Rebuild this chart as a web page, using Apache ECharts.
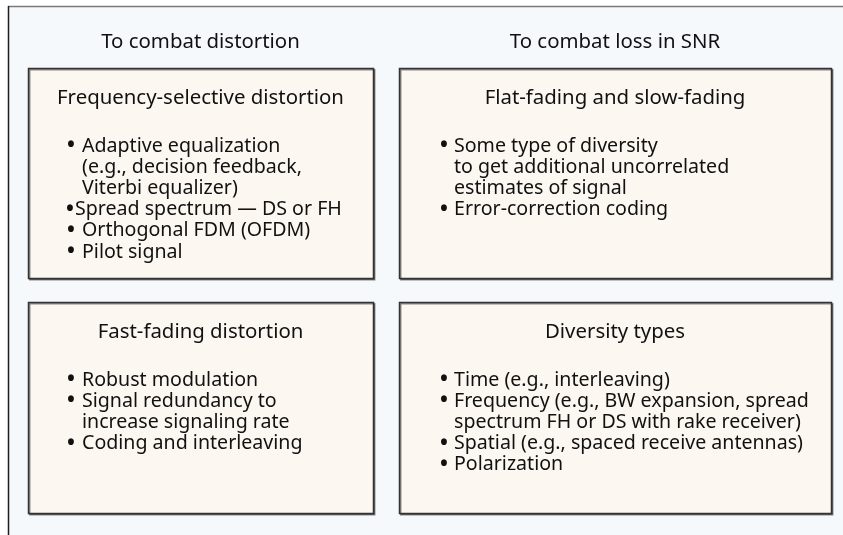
<!DOCTYPE html>
<html>
<head>
<meta charset="utf-8">
<script src="https://cdn.jsdelivr.net/npm/echarts@6/dist/echarts.min.js"></script>
<style>
html,body{margin:0;padding:0;background:#ffffff;}
#chart{width:843px;height:535px;}
</style>
</head>
<body>
<div id="chart"></div>
<script>
// ---- content ----
const columnTitles = ['To combat distortion', 'To combat loss in SNR'];
const boxTitles = [
  'Frequency-selective distortion',
  'Flat-fading and slow-fading',
  'Fast-fading distortion',
  'Diversity types'
];
const freqSelectiveItems = [
  ['Adaptive equalization', '(e.g., decision feedback,', 'Viterbi equalizer)'],
  ['Spread spectrum \u2014 DS or FH'],
  ['Orthogonal FDM (OFDM)'],
  ['Pilot signal']
];
const flatFadingItems = [
  ['Some type of diversity', 'to get additional uncorrelated', 'estimates of signal'],
  ['Error-correction coding']
];
const fastFadingItems = [
  ['Robust modulation'],
  ['Signal redundancy to', 'increase signaling rate'],
  ['Coding and interleaving']
];
const diversityItems = [
  ['Time (e.g., interleaving)'],
  ['Frequency (e.g., BW expansion, spread', 'spectrum FH or DS with rake receiver)'],
  ['Spatial (e.g., spaced receive antennas)'],
  ['Polarization']
];
const tightBulletItems = ['Spread spectrum \u2014 DS or FH'];

// ---- layout ----
const FONT = '"Noto Sans", "Open Sans", sans-serif';
const FS = 19.6;
const FS_HEAD = 20.4;
const LINE_H = 21.2;
const TXT = '#111111';
const boxes = [
  {x: 28, y: 68, w: 345, h: 210, items: freqSelectiveItems},
  {x: 399, y: 68, w: 432, h: 210, items: flatFadingItems},
  {x: 28, y: 302, w: 345, h: 211, items: fastFadingItems},
  {x: 399, y: 302, w: 432, h: 211, items: diversityItems}
];
const bulletX = [67, 440, 67, 440];
const textX = [82, 454, 82, 454];

const g = [];
// background panel
g.push({type: 'rect', shape: {x: 8, y: 6, width: 835, height: 529}, style: {fill: '#f5f9fb'}, z: 0});
g.push({type: 'line', shape: {x1: 8, y1: 6.5, x2: 843, y2: 6.5}, style: {stroke: '#7a7a7a', lineWidth: 1.5}, z: 1});
g.push({type: 'line', shape: {x1: 8.5, y1: 6, x2: 8.5, y2: 535}, style: {stroke: '#1e1e1e', lineWidth: 1.5}, z: 1});

// column titles
columnTitles.forEach((t, i) => {
  const b = boxes[i];
  g.push({type: 'text', x: b.x + b.w / 2, y: 42, style: {text: t, font: FS_HEAD + 'px ' + FONT, fill: TXT, align: 'center', verticalAlign: 'middle'}, z: 3});
});

boxes.forEach((b, i) => {
  g.push({type: 'rect', shape: {x: b.x + 0.5, y: b.y + 0.5, width: b.w, height: b.h},
    style: {fill: '#fcf7f1', stroke: '#333333', lineWidth: 1.5, shadowColor: 'rgba(0,0,0,0.45)', shadowOffsetX: 1.2, shadowOffsetY: 1.2, shadowBlur: 0}, z: 2});
  g.push({type: 'text', x: b.x + b.w / 2, y: b.y + 30, style: {text: boxTitles[i], font: FS_HEAD + 'px ' + FONT, fill: TXT, align: 'center', verticalAlign: 'middle'}, z: 3});
  let ly = b.y + 78;
  b.items.forEach(item => {
    const tight = tightBulletItems.indexOf(item[0]) >= 0;
    g.push({type: 'text', x: tight ? bulletX[i] - 1 : bulletX[i], y: ly, style: {text: '\u2022', font: 'bold 21px ' + FONT, fill: TXT, align: 'left', verticalAlign: 'middle'}, z: 3});
    item.forEach(line => {
      g.push({type: 'text', x: tight ? textX[i] - 7 : textX[i], y: ly, style: {text: line, font: FS + 'px ' + FONT, fill: TXT, align: 'left', verticalAlign: 'middle'}, z: 3});
      ly += LINE_H;
    });
  });
});

const chart = echarts.init(document.getElementById('chart'), null, {renderer: 'canvas'});
chart.setOption({
  backgroundColor: '#ffffff',
  animation: false,
  graphic: {elements: g}
});
</script>
</body>
</html>
